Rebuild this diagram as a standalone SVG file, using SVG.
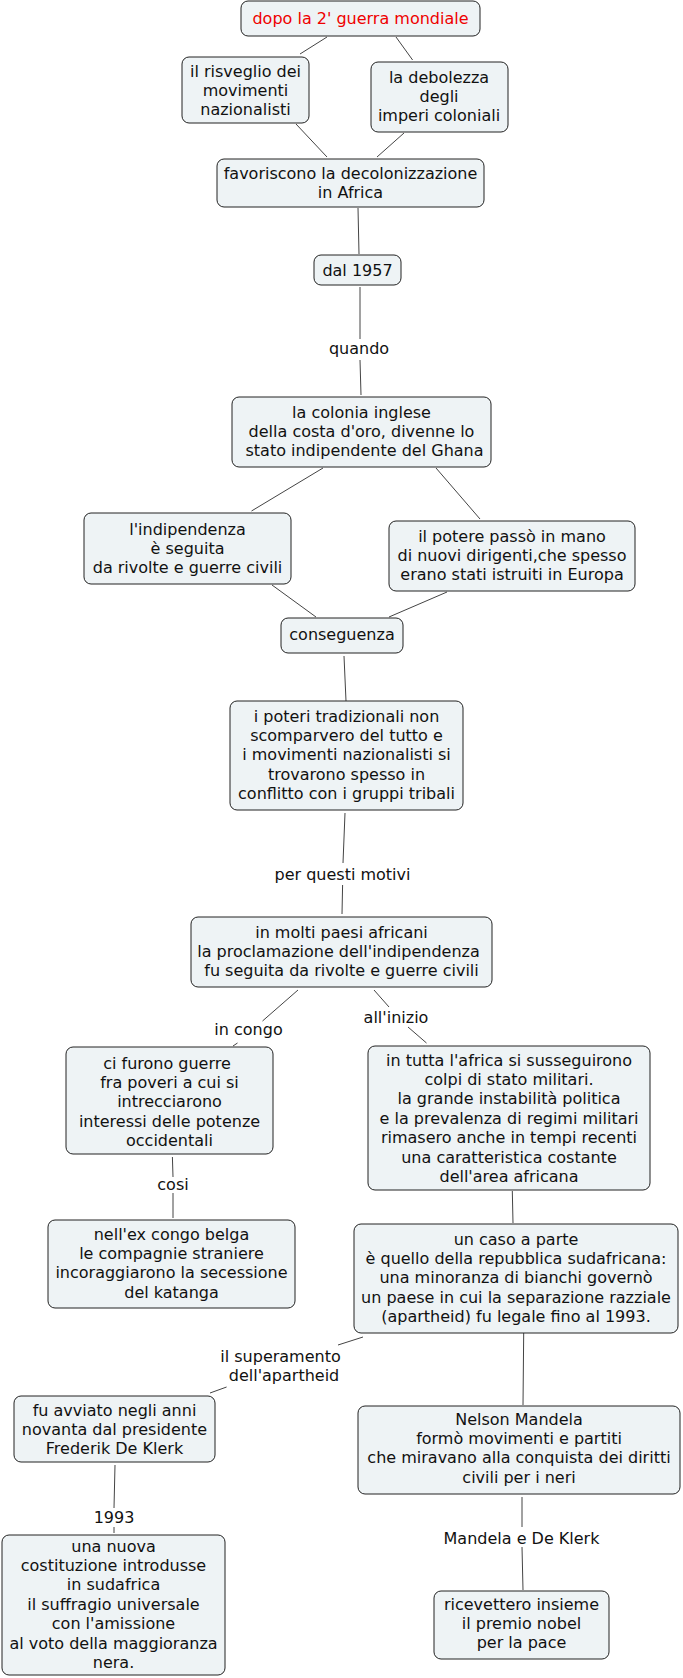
<svg xmlns="http://www.w3.org/2000/svg" width="683" height="1678" viewBox="0 0 683 1678">
<style>
.n{fill:#eef3f5;stroke:#222;stroke-width:1}
.t{font-family:"DejaVu Sans",Verdana,sans-serif;font-size:16px;fill:#111;text-anchor:middle}
.r{fill:#ee0000}
.c line{stroke:#444;stroke-width:1}
</style>
<rect width="683" height="1678" fill="#fff"/>
<g class="c" id="connectors">
<line x1="327" y1="37" x2="300" y2="54"/>
<line x1="396" y1="37" x2="412.6" y2="60"/>
<line x1="296" y1="124" x2="327" y2="157"/>
<line x1="404" y1="133" x2="377" y2="157"/>
<line x1="358" y1="208" x2="359" y2="254"/>
<line x1="360" y1="287" x2="360" y2="339"/>
<line x1="360" y1="360" x2="361" y2="395"/>
<line x1="323" y1="468" x2="251.5" y2="511"/>
<line x1="436" y1="468" x2="480" y2="519"/>
<line x1="272" y1="585" x2="316" y2="617"/>
<line x1="447" y1="592" x2="389" y2="617"/>
<line x1="344" y1="656" x2="346" y2="701"/>
<line x1="345" y1="813" x2="343" y2="863"/>
<line x1="342.6" y1="885" x2="342" y2="914"/>
<line x1="298" y1="990" x2="262.5" y2="1021"/>
<line x1="237.5" y1="1043" x2="233" y2="1046"/>
<line x1="374" y1="990" x2="389" y2="1007"/>
<line x1="408" y1="1027" x2="426.5" y2="1043"/>
<line x1="172.4" y1="1157" x2="173" y2="1177"/>
<line x1="173" y1="1193" x2="173" y2="1218"/>
<line x1="512.3" y1="1191" x2="513" y2="1223"/>
<line x1="363" y1="1337" x2="338" y2="1345"/>
<line x1="226.6" y1="1387" x2="210" y2="1393"/>
<line x1="523.7" y1="1333" x2="523" y2="1405"/>
<line x1="115" y1="1465" x2="114" y2="1508"/>
<line x1="114" y1="1527" x2="114" y2="1533"/>
<line x1="522" y1="1497" x2="522" y2="1527"/>
<line x1="522" y1="1547" x2="523" y2="1590"/>
</g>
<g id="n1"><rect class="n" x="241" y="1" width="239" height="35" rx="7"/><text class="t r" x="360.5" y="24">dopo la 2' guerra mondiale</text></g>
<g id="n2"><rect class="n" x="182" y="57" width="127" height="66" rx="7"/><text class="t" x="245.5"><tspan x="245.5" y="76.5">il risveglio dei</tspan><tspan x="245.5" y="95.9">movimenti</tspan><tspan x="245.5" y="115.3">nazionalisti</tspan></text></g>
<g id="n3"><rect class="n" x="371" y="62" width="137" height="70" rx="7"/><text class="t" x="439"><tspan x="439" y="82.5">la debolezza</tspan><tspan x="439" y="101.9">degli</tspan><tspan x="439" y="121.3">imperi coloniali</tspan></text></g>
<g id="n4"><rect class="n" x="217" y="159" width="267" height="48" rx="7"/><text class="t" x="350.5"><tspan x="350.5" y="178.5">favoriscono la decolonizzazione</tspan><tspan x="350.5" y="197.9">in Africa</tspan></text></g>
<g id="n5"><rect class="n" x="314" y="255" width="87" height="30" rx="7"/><text class="t" x="357.5" y="275.5">dal 1957</text></g>
<g id="l1"><text class="t" x="359" y="353.5">quando</text></g>
<g id="n6"><rect class="n" x="232" y="397" width="259" height="70" rx="7"/><text class="t"><tspan x="361.5" y="417.5">la colonia inglese</tspan><tspan x="361.5" y="436.9">della costa d'oro, divenne lo</tspan><tspan x="364.5" y="456.3">stato indipendente del Ghana</tspan></text></g>
<g id="n7"><rect class="n" x="84" y="513" width="207" height="71" rx="7"/><text class="t"><tspan x="187.5" y="534.5">l'indipendenza</tspan><tspan x="187.5" y="553.9">è seguita</tspan><tspan x="187.5" y="573.3">da rivolte e guerre civili</tspan></text></g>
<g id="n8"><rect class="n" x="389" y="521" width="246" height="70" rx="7"/><text class="t"><tspan x="512" y="541.5">il potere passò in mano</tspan><tspan x="512" y="560.9">di nuovi dirigenti,che spesso</tspan><tspan x="512" y="580.3">erano stati istruiti in Europa</tspan></text></g>
<g id="n9"><rect class="n" x="281" y="618" width="122" height="35" rx="7"/><text class="t" x="342" y="640">conseguenza</text></g>
<g id="n10"><rect class="n" x="230" y="701" width="233" height="109" rx="7"/><text class="t"><tspan x="346.5" y="721.5">i poteri tradizionali non</tspan><tspan x="346.5" y="740.9">scomparvero del tutto e</tspan><tspan x="346.5" y="760.3">i movimenti nazionalisti si</tspan><tspan x="346.5" y="779.7">trovarono spesso in</tspan><tspan x="346.5" y="799.1">conflitto con i gruppi tribali</tspan></text></g>
<g id="l2"><text class="t" x="342.5" y="879.5">per questi motivi</text></g>
<g id="n11"><rect class="n" x="191" y="917" width="301" height="70" rx="7"/><text class="t"><tspan x="341.5" y="937.5">in molti paesi africani</tspan><tspan x="338.5" y="956.9">la proclamazione dell'indipendenza</tspan><tspan x="341.5" y="976.3">fu seguita da rivolte e guerre civili</tspan></text></g>
<g id="l3"><text class="t" x="248.5" y="1034.5">in congo</text></g>
<g id="l4"><text class="t" x="396" y="1022.5">all'inizio</text></g>
<g id="n12"><rect class="n" x="66" y="1047" width="207" height="107" rx="7"/><text class="t"><tspan x="167" y="1068.5">ci furono guerre</tspan><tspan x="169.5" y="1087.9">fra poveri a cui si</tspan><tspan x="169.5" y="1107.3">intrecciarono</tspan><tspan x="169.5" y="1126.7">interessi delle potenze</tspan><tspan x="169.5" y="1146.1">occidentali</tspan></text></g>
<g id="n13"><rect class="n" x="368" y="1046" width="282" height="144" rx="7"/><text class="t"><tspan x="509" y="1065.5">in tutta l'africa si susseguirono</tspan><tspan x="509" y="1084.9">colpi di stato militari.</tspan><tspan x="509" y="1104.3">la grande instabilità politica</tspan><tspan x="509" y="1123.7">e la prevalenza di regimi militari</tspan><tspan x="509" y="1143.1">rimasero anche in tempi recenti</tspan><tspan x="509" y="1162.5">una caratteristica costante</tspan><tspan x="509" y="1181.9">dell'area africana</tspan></text></g>
<g id="l5"><text class="t" x="173" y="1189.5">cosi</text></g>
<g id="n14"><rect class="n" x="48" y="1220" width="247" height="88" rx="7"/><text class="t"><tspan x="171.5" y="1239.5">nell'ex congo belga</tspan><tspan x="171.5" y="1258.9">le compagnie straniere</tspan><tspan x="171.5" y="1278.3">incoraggiarono la secessione</tspan><tspan x="171.5" y="1297.7">del katanga</tspan></text></g>
<g id="n15"><rect class="n" x="354" y="1224" width="324" height="109" rx="7"/><text class="t"><tspan x="516" y="1244.5">un caso a parte</tspan><tspan x="516" y="1263.9">è quello della repubblica sudafricana:</tspan><tspan x="516" y="1283.3">una minoranza di bianchi governò</tspan><tspan x="516" y="1302.7">un paese in cui la separazione razziale</tspan><tspan x="516" y="1322.1">(apartheid) fu legale fino al 1993.</tspan></text></g>
<g id="l6"><text class="t"><tspan x="280.5" y="1361.5">il superamento</tspan><tspan x="284" y="1380.9">dell'apartheid</tspan></text></g>
<g id="n16"><rect class="n" x="14" y="1396" width="201" height="66" rx="7"/><text class="t"><tspan x="114.5" y="1415.5">fu avviato negli anni</tspan><tspan x="114.5" y="1434.9">novanta dal presidente</tspan><tspan x="114.5" y="1454.3">Frederik De Klerk</tspan></text></g>
<g id="n17"><rect class="n" x="358" y="1406" width="322" height="88" rx="7"/><text class="t"><tspan x="519" y="1424.5">Nelson Mandela</tspan><tspan x="519" y="1443.9">formò movimenti e partiti</tspan><tspan x="519" y="1463.3">che miravano alla conquista dei diritti</tspan><tspan x="519" y="1482.7">civili per i neri</tspan></text></g>
<g id="l7"><text class="t" x="114" y="1522.5">1993</text></g>
<g id="n18"><rect class="n" x="2" y="1535" width="223" height="140" rx="7"/><text class="t"><tspan x="113.5" y="1551.5">una nuova</tspan><tspan x="113.5" y="1570.9">costituzione introdusse</tspan><tspan x="113.5" y="1590.3">in sudafrica</tspan><tspan x="113.5" y="1609.7">il suffragio universale</tspan><tspan x="113.5" y="1629.1">con l'amissione</tspan><tspan x="113.5" y="1648.5">al voto della maggioranza</tspan><tspan x="113.5" y="1667.9">nera.</tspan></text></g>
<g id="l8"><text class="t" x="521.5" y="1543.5">Mandela e De Klerk</text></g>
<g id="n19"><rect class="n" x="434" y="1591" width="175" height="68" rx="7"/><text class="t"><tspan x="521.5" y="1609.5">ricevettero insieme</tspan><tspan x="521.5" y="1628.9">il premio nobel</tspan><tspan x="521.5" y="1648.3">per la pace</tspan></text></g>
</svg>
